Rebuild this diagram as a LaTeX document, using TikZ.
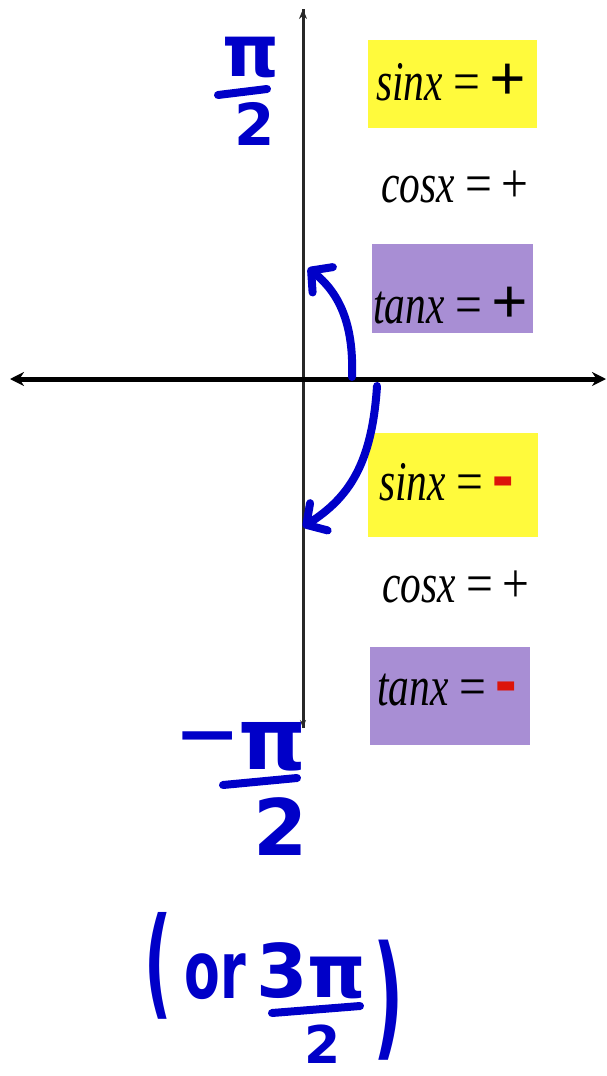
\documentclass[tikz,border=0pt]{standalone}
\usepackage{fontspec}
\usepackage{graphicx}
\setmainfont{Liberation Serif}
\newfontfamily\hand{DejaVu Sans}
\usetikzlibrary{arrows.meta}
\definecolor{yel}{RGB}{255,250,60}
\definecolor{purp}{RGB}{168,142,212}
\definecolor{handblue}{RGB}{0,0,200}
\definecolor{dashred}{RGB}{220,20,10}
\definecolor{axisgray}{RGB}{40,40,40}
\tikzset{
  ybox/.style={fill=yel, draw=none, inner sep=0pt},
  pbox/.style={fill=purp, draw=none, inner sep=0pt},
  eqtext/.style={anchor=base west, inner sep=0pt, font=\fontsize{56}{56}\selectfont},
  handtxt/.style={text=handblue, inner sep=0pt, font=\hand\bfseries},
  handline/.style={draw=handblue, line width=8pt, line cap=round, line join=round},
  handarrow/.style={handline, -{Straight Barb[angle=95:22pt, line width=8pt, round]}},
  axis/.style={line width=3pt, draw=axisgray},
  haxis/.style={line width=5pt, draw=black}
}
\newcommand{\eqline}[2]{\scalebox{0.74}[1]{\itshape #1}\hspace{11pt}\scalebox{0.85}[1]{=}\hspace{9pt}#2}
\newcommand{\bigplus}{\scalebox{1.15}{\bfseries +}}
\newcommand{\smallplus}{\scalebox{0.85}[1]{+}}
\newcommand{\reddash}{\textcolor{dashred}{\raisebox{-6pt}{\scalebox{1.15}[1.9]{\bfseries -}}}}
\begin{document}
\begin{tikzpicture}[x=1pt,y=-1pt]
\useasboundingbox (0,0) rectangle (607,1076);
% axes
\coordinate (T) at (303,9);
\coordinate (B) at (303,728);
\coordinate (L) at (10,379);
\coordinate (R) at (606,379);
\draw[axis, -{Stealth[length=10pt,width=8pt]}] (B) -- (T);
\draw[axis, -{Stealth[length=8pt,width=6pt]}] (T) -- (B);
\draw[haxis, {Stealth[length=14pt,width=14pt]}-{Stealth[length=14pt,width=14pt]}] (L) -- (R);
% boxes
\node[ybox, minimum width=169pt, minimum height=88pt] (y1) at (452.5,84) {};
\node[pbox, minimum width=161pt, minimum height=89pt] (p1) at (452.5,288) {};
\node[ybox, minimum width=170pt, minimum height=104pt] (y2) at (453,485) {};
\node[pbox, minimum width=160pt, minimum height=98pt] (p2) at (450,696) {};
% texts
\node[eqtext] (s1) at (376,100) {\eqline{sinx}{\bigplus}};
\node[eqtext] (c1) at (381,202) {\eqline{cosx}{\smallplus}};
\node[eqtext] (t1) at (373,323) {\eqline{tanx}{\bigplus}};
\node[eqtext] (s2) at (379,500) {\eqline{sinx}{\reddash}};
\node[eqtext] (c2) at (382,602) {\eqline{cosx}{\smallplus}};
\node[eqtext] (t2) at (377,705) {\eqline{tanx}{\reddash}};
% handwritten arrows
\coordinate (u0) at (352,377);
\coordinate (u1) at (308,268);
\draw[handarrow] (u0) .. controls (354,322) and (338,292) .. (u1);
\coordinate (d0) at (377,386);
\coordinate (d1) at (303,527);
\draw[handarrow] (d0) .. controls (372,465) and (348,498) .. (d1);
% pi/2
\node[handtxt, font=\hand\bfseries\fontsize{72}{72}\selectfont] (pn) at (251,57) {π};
\coordinate (pb1) at (218,95);
\coordinate (pb2) at (267,89);
\draw[handline] (pb1) -- (pb2);
\node[handtxt, font=\hand\bfseries\fontsize{58}{58}\selectfont] (pd) at (255,124) {2};
% -pi/2
\node[handtxt, font=\hand\bfseries\fontsize{72}{72}\selectfont] (mm) at (208,745) {\scalebox{1.1}[1]{−}};
\node[handtxt, font=\hand\bfseries\fontsize{86}{86}\selectfont] (mn) at (273,747) {π};
\coordinate (mb1) at (223,785);
\coordinate (mb2) at (297,778);
\draw[handline] (mb1) -- (mb2);
\node[handtxt, font=\hand\bfseries\fontsize{78}{78}\selectfont] (md) at (281,827) {2};
% (or 3pi/2)
\node[handtxt, font=\hand\bfseries\fontsize{60}{60}\selectfont] (lp) at (158,966) {\scalebox{1}[2]{(}};
\node[handtxt, font=\hand\bfseries\fontsize{80}{80}\selectfont] (or) at (215,977) {\scalebox{0.65}[1]{or}};
\node[handtxt, font=\hand\bfseries\fontsize{74}{74}\selectfont, anchor=base west] (tp) at (256,997) {3π};
\coordinate (ob1) at (272,1013);
\coordinate (ob2) at (360,1006);
\draw[handline] (ob1) -- (ob2);
\node[handtxt, font=\hand\bfseries\fontsize{52}{52}\selectfont] (od) at (323,1044) {2};
\node[handtxt, font=\hand\bfseries\fontsize{60}{60}\selectfont] (rp) at (389,1000) {\scalebox{1.1}[2.25]{)}};
\end{tikzpicture}
\end{document}
